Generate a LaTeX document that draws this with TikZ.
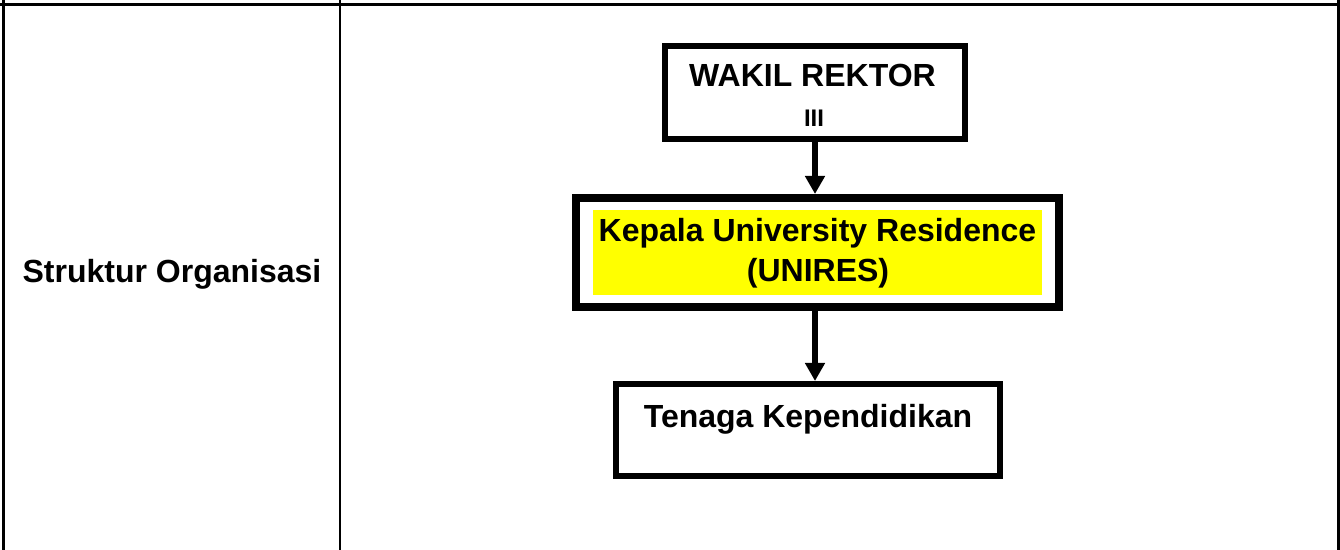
\documentclass[tikz,border=0pt]{standalone}
\usepackage{fontspec}
\setmainfont{Liberation Sans}
\usetikzlibrary{arrows.meta}
\definecolor{hl}{HTML}{FFFF00}
\begin{document}
\begin{tikzpicture}[x=0.5pt,y=-0.5pt,
  grid/.style={line width=1.25pt,black},
  orgbox/.style={draw=black,rectangle,inner sep=0pt,fill=white},
  txt/.style={inner sep=0pt,anchor=base,font=\fontsize{16}{20}\selectfont\bfseries},
  smalltxt/.style={inner sep=0pt,anchor=base,font=\fontsize{12}{14}\selectfont\bfseries},
  conn/.style={line width=3pt,-{Triangle[width=9.5pt,length=9pt]}}]
\useasboundingbox (0,0) rectangle (1340,550);
% table lines
\draw[grid] (0,4.5) -- (1340,4.5);
\draw[grid] (3.7,0) -- (3.7,550);
\draw[grid] (340,0) -- (340,550);
\draw[grid] (1338.5,0) -- (1338.5,550);
% left cell label
\node[txt] (lbl) at (172,283) {Struktur Organisasi};
% boxes
\node[orgbox,line width=3pt,minimum width=150pt,minimum height=46.5pt] (b1) at (815,92.5) {};
\node[orgbox,line width=4pt,minimum width=241.5pt,minimum height=54.5pt] (b2) at (817.5,252.5) {};
\node[rectangle,fill=hl,inner sep=0pt,minimum width=224.5pt,minimum height=42.5pt] (hl2) at (817.5,252.5) {};
\node[orgbox,line width=3pt,minimum width=192pt,minimum height=46pt] (b3) at (808,430) {};
% texts
\node[txt] (t1a) at (812.5,87) {WAKIL REKTOR};
\node[smalltxt] (t1b) at (814,127) {III};
\node[txt] (t2a) at (817.5,242) {Kepala University Residence};
\node[txt] (t2b) at (818,282) {(UNIRES)};
\node[txt] (t3) at (808,428) {Tenaga Kependidikan};
% connectors
\draw[conn] (b1.south) -- (b1.south |- b2.north);
\draw[conn] (b1.south |- b2.south) -- (b1.south |- b3.north);
\end{tikzpicture}
\end{document}
